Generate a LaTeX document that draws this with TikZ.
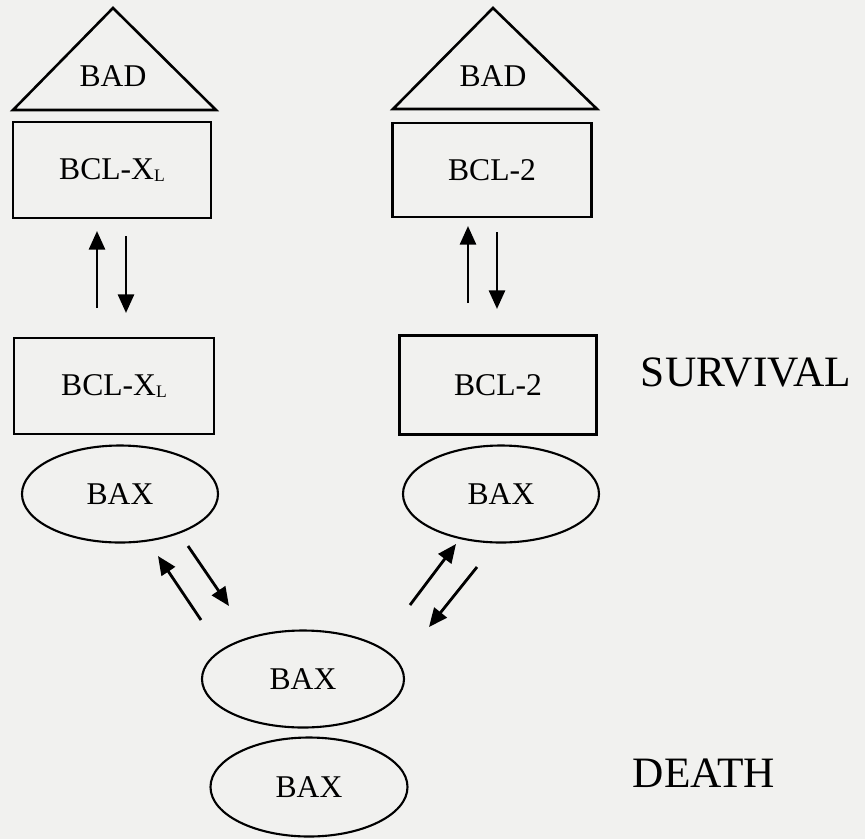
\documentclass[tikz,border=0pt]{standalone}
\usepackage{fontspec}
\setmainfont{Liberation Serif}
\usepackage{tikz}
\usetikzlibrary{arrows.meta, shapes.geometric, calc}
\definecolor{scanbg}{HTML}{F1F1EF}
\newcommand{\subL}{\raisebox{-0.08em}{\fontsize{15}{15}\selectfont L}}

\tikzset{
  lbl/.style={font=\fontsize{27}{30}\selectfont, inner sep=0pt},
  protbox/.style={draw, line width=2.4pt, rectangle, lbl},
  baxell/.style={draw, line width=1.8pt, ellipse, lbl,
    minimum width=196*0.3mm, minimum height=97*0.3mm},
  fate/.style={font=\fontsize{37}{40}\selectfont, inner sep=0pt},
  arr/.style={line width=2.4pt, -{Triangle[length=5.6mm, width=4.8mm]}}
}

\begin{document}
\begin{tikzpicture}[x=0.3mm, y=-0.3mm]
  \useasboundingbox (0,0) rectangle (865,839);
  \fill[scanbg] (0,0) rectangle (865,839);

  %% BAD caps
  \draw[line width=2.2pt, line join=miter] (113,8) -- (13,110) -- (216,110) -- cycle;
  \draw[line width=2.2pt, line join=miter] (493,8) -- (393,109) -- (597,109) -- cycle;
  \node[lbl] (badL) at (113,76) {BAD};
  \node[lbl] (badR) at (493,76) {BAD};

  %% bound complexes
  \node[protbox, minimum width=198*0.3mm, minimum height=96*0.3mm] (xlTop) at (112,170) {BCL-X\subL};
  \node[protbox, minimum width=199*0.3mm, minimum height=94*0.3mm] (btTop) at (492,170) {BCL-2};

  %% free partners
  \node[protbox, minimum width=200*0.3mm, minimum height=96*0.3mm] (xlMid) at (114,386) {BCL-X\subL};
  \node[protbox, minimum width=197*0.3mm, minimum height=99*0.3mm] (btMid) at (498,385) {BCL-2};
  \node[baxell] (baxL) at (120,494) {BAX};
  \node[baxell] (baxR) at (501,494) {BAX};

  %% BAX dimer
  \node[baxell, minimum width=202*0.3mm] (baxA) at (303,679) {BAX};
  \node[baxell, minimum width=197*0.3mm, minimum height=99*0.3mm] (baxB) at (309,787) {BAX};

  %% outcomes
  \node[fate] (surv) at (746,372) {SURVIVAL};
  \node[fate] (death) at (704,773) {DEATH};

  %% arrow end points
  \coordinate (lu1) at (97,308);  \coordinate (lu2) at (97,231);
  \coordinate (ld1) at (126,236); \coordinate (ld2) at (126,313);
  \coordinate (ru1) at (468,303); \coordinate (ru2) at (468,226);
  \coordinate (rd1) at (497,232); \coordinate (rd2) at (497,309);
  \coordinate (dl1) at (201,620); \coordinate (dl2) at (158,556);
  \coordinate (dl3) at (188,546); \coordinate (dl4) at (229,606);
  \coordinate (dr1) at (410,605); \coordinate (dr2) at (456,544);
  \coordinate (dr3) at (477,567); \coordinate (dr4) at (429,627);

  %% equilibria
  \draw[arr] (lu1) -- (lu2);
  \draw[arr] (ld1) -- (ld2);
  \draw[arr] (ru1) -- (ru2);
  \draw[arr] (rd1) -- (rd2);
  \draw[arr] (dl1) -- (dl2);
  \draw[arr] (dl3) -- (dl4);
  \draw[arr] (dr1) -- (dr2);
  \draw[arr] (dr3) -- (dr4);

\end{tikzpicture}
\end{document}
